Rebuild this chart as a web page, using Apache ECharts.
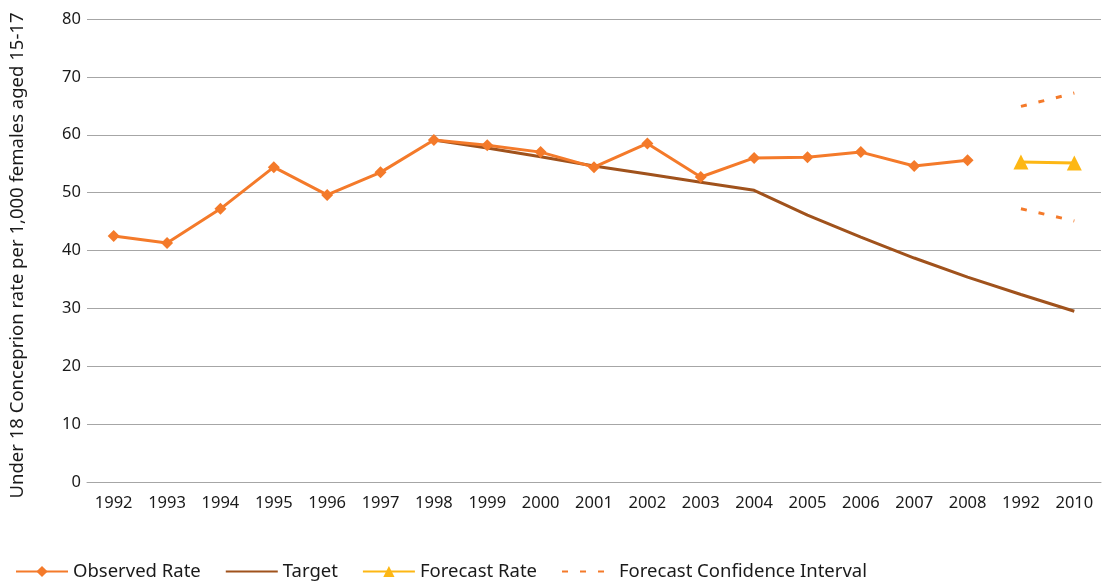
<!DOCTYPE html>
<html><head><meta charset="utf-8">
<script src="https://cdn.jsdelivr.net/npm/echarts@6/dist/echarts.min.js"></script>
<style>html,body{margin:0;padding:0;background:#fff}#c{width:1105px;height:583px}</style>
</head><body><div id="c"></div>
<script>
var tickLabels = ['1992','1993','1994','1995','1996','1997','1998','1999','2000','2001','2002','2003','2004','2005','2006','2007','2008','1992','2010'];
var categories = tickLabels.map(function(t,i){return 'c'+i;});
var observed = [42.5,41.3,47.2,54.4,49.6,53.5,59.1,58.2,57.0,54.4,58.5,52.7,56.0,56.1,57.0,54.6,55.6,null,null];
var target = [null,null,null,null,null,null,59.1,57.7,56.2,54.6,53.2,51.8,50.4,46.1,42.3,38.7,35.4,32.4,29.5];
var forecast = [null,null,null,null,null,null,null,null,null,null,null,null,null,null,null,null,null,55.3,55.1];
var ciUpper = [null,null,null,null,null,null,null,null,null,null,null,null,null,null,null,null,null,64.9,67.2];
var ciLower = [null,null,null,null,null,null,null,null,null,null,null,null,null,null,null,null,null,47.2,45.1];
var yTicks = {min:0,max:80,interval:10};

var FONT = 'Noto Sans';
var chart = echarts.init(document.getElementById('c'));
chart.setOption({
  animation:false,
  textStyle:{fontFamily:FONT},
  grid:{left:86,right:4,top:19,bottom:101,containLabel:false},
  legend:{
    left:10,top:557,itemWidth:52,itemHeight:14,itemGap:24,
    textStyle:{fontFamily:FONT,fontSize:18.5,color:'#1a1a1a'},
    data:[
      {name:'Observed Rate'},
      {name:'Target',itemStyle:{opacity:0}},
      {name:'Forecast Rate'},
      {name:'Forecast Confidence Interval',itemStyle:{opacity:0}}
    ]
  },
  xAxis:{
    type:'category',data:categories,boundaryGap:true,
    axisLine:{show:true,lineStyle:{color:'#a6a6a6',width:1}},
    axisTick:{show:false},
    axisLabel:{interval:0,margin:13,fontSize:16.5,color:'#1a1a1a',fontFamily:FONT,
      formatter:function(v,i){return tickLabels[i];}}
  },
  yAxis:{
    type:'value',min:yTicks.min,max:yTicks.max,interval:yTicks.interval,
    name:'Under 18 Conceprion rate per 1,000 females aged 15-17',
    nameLocation:'middle',nameGap:60,nameRotate:90,
    nameTextStyle:{fontSize:18.5,color:'#1a1a1a',fontFamily:FONT,padding:[0,10,0,0]},
    axisLine:{show:false},axisTick:{show:false},
    axisLabel:{fontSize:16.5,color:'#1a1a1a',margin:6,fontFamily:FONT},
    splitLine:{lineStyle:{color:'#a6a6a6',width:1}}
  },
  series:[
    {name:'Target',type:'line',data:target,symbol:'none',z:2,
     lineStyle:{color:'#a0521c',width:3},itemStyle:{color:'#a0521c'}},
    {name:'Observed Rate',type:'line',data:observed,symbol:'diamond',symbolSize:12,z:3,
     lineStyle:{color:'#f47a2a',width:3},itemStyle:{color:'#f47a2a'}},
    {name:'Forecast Rate',type:'line',data:forecast,symbol:'triangle',symbolSize:15,z:3,
     lineStyle:{color:'#fdb714',width:3},itemStyle:{color:'#fdb714'}},
    {name:'Forecast Confidence Interval',type:'line',data:ciUpper,symbol:'none',z:2,
     lineStyle:{color:'#f47a2a',width:3,type:[6,12]},itemStyle:{color:'#f47a2a'}},
    {name:'Forecast Confidence Interval',type:'line',data:ciLower,symbol:'none',z:2,
     lineStyle:{color:'#f47a2a',width:3,type:[6,12]},itemStyle:{color:'#f47a2a'}}
  ]
});
</script></body></html>
